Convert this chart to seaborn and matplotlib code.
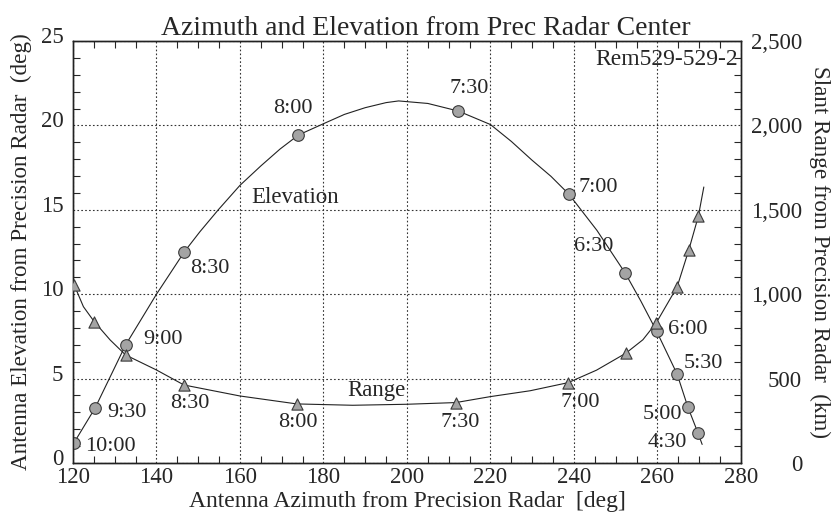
import matplotlib
matplotlib.use("Agg")
import matplotlib.pyplot as plt
import matplotlib.transforms as mtransforms
from matplotlib.ticker import MultipleLocator, FuncFormatter
import seaborn as sns

# marker points (azimuth deg, elevation deg / slant range km)
elev_az = [120.2, 125.3, 132.6, 146.7, 174.0, 212.3, 238.8, 252.3, 259.8, 264.7, 267.3, 269.7]
elev_deg = [1.18, 3.26, 6.99, 12.52, 19.43, 20.85, 15.92, 11.24, 7.8, 5.27, 3.3, 1.78]
elev_times = ["10:00", "9:30", "9:00", "8:30", "8:00", "7:30", "7:00", "6:30", "6:00", "5:30", "5:00", "4:30"]

range_az = [120.3, 125.1, 132.6, 146.6, 173.6, 211.7, 238.6, 252.4, 259.7, 264.7, 267.5, 269.8]
range_km = [1054, 837, 640, 462, 350, 358, 476, 650, 830, 1043, 1262, 1463]

# smooth fit curves
elev_curve_az = [120.2, 125.3, 132.6, 140, 146.7, 150.4, 154.8, 160, 165, 169.6, 174.0, 180,
                 185, 190, 195, 198, 205, 212.3, 220, 225, 229.9, 234.5, 238.8,
                 245.5, 252.3, 256, 259.8, 264.7, 267.3, 269.7, 270.7]
elev_curve_deg = [1.18, 3.26, 6.99, 10.0, 12.52, 13.7, 15.0, 16.45, 17.6, 18.6, 19.43, 20.1,
                  20.65, 21.05, 21.35, 21.45, 21.3, 20.85, 20.05, 19.05, 17.95, 16.98, 15.92,
                  13.78, 11.24, 9.6, 7.8, 5.27, 3.3, 1.78, 1.1]
range_curve_az = [120.3, 122.5, 125.1, 128.9, 132.6, 140, 146.6, 160, 173.6, 187, 200, 211.7,
                  219.9, 229.5, 238.6, 245.4, 252.4, 256.5, 259.7, 264.7, 267.5, 269.8, 271.1]
range_curve_km = [1054, 926, 837, 729, 640, 551, 462, 397, 350, 342, 348, 358,
                  393, 428, 476, 550, 650, 730, 830, 1043, 1262, 1463, 1635]

# label placement (azimuth, elevation) for the time tags
elev_lbl_az = [128.9, 132.9, 141.6, 152.8, 172.7, 215.0, 245.7, 244.8, 267.3, 270.9, 261.1, 262.3]
elev_lbl_el = [0.95, 3.0, 7.3, 11.55, 21.0, 22.2, 16.3, 12.8, 7.9, 5.9, 2.85, 1.2]
range_lbl = {"8:30": (148.0, 3.55), "8:00": (173.9, 2.4), "7:30": (212.7, 2.4), "7:00": (241.4, 3.6)}

sns.set_style("ticks")
plt.rcParams['font.family'] = ['Liberation Serif', 'DejaVu Serif']

fig = plt.figure(figsize=(8.35, 5.19), dpi=100)
ax = fig.add_axes([0.0874, 0.1079, 0.8, 0.8131])
ax2 = ax.twinx()

pt_face = '#a4a4a4'
pt_edge = '#3a3a3a'

sns.lineplot(x=elev_curve_az, y=elev_curve_deg, sort=False, estimator=None,
             color='#222222', lw=0.8, ax=ax)
sns.scatterplot(x=elev_az, y=elev_deg, marker='o', s=70, color=pt_face,
                edgecolor=pt_edge, linewidth=0.8, ax=ax, zorder=5)

sns.lineplot(x=range_curve_az, y=range_curve_km, sort=False, estimator=None,
             color='#222222', lw=0.8, ax=ax2)
sns.scatterplot(x=range_az, y=range_km, marker='^', s=65, color=pt_face,
                edgecolor=pt_edge, linewidth=0.8, ax=ax2, zorder=5)

ax.set_xlim(120, 280)
ax.set_ylim(0, 25)
ax2.set_ylim(0, 2500)

ax.xaxis.set_major_locator(MultipleLocator(20))
ax.xaxis.set_minor_locator(MultipleLocator(5))
ax.yaxis.set_major_locator(MultipleLocator(5))
ax.yaxis.set_minor_locator(MultipleLocator(1))
ax2.yaxis.set_major_locator(MultipleLocator(500))
ax2.yaxis.set_minor_locator(MultipleLocator(100))
ax2.yaxis.set_major_formatter(FuncFormatter(lambda v, p: f"{int(v):,}"))

ax.grid(True, which='major', linestyle=(0, (1.5, 2)), color='#333333', linewidth=0.8)
ax.tick_params(which='both', direction='in', top=True, right=False, labelsize=16.5)
ax.tick_params(axis='x', which='major', pad=3)
ax.tick_params(axis='y', which='major', pad=7)
ax.tick_params(which='major', length=0)
ax.tick_params(which='minor', length=5, width=0.8)
# left labels sit a little above their gridlines in the original
lift = mtransforms.ScaledTranslation(0, 4.3 / 72, fig.dpi_scale_trans)
for lbl in ax.get_yticklabels():
    lbl.set_transform(lbl.get_transform() + lift)
# right-hand labels sit flush right
ax2.tick_params(which='both', direction='in', labelsize=16.5, pad=44)
ax2.tick_params(which='major', length=0)
ax2.tick_params(which='minor', length=5, width=0.8)
for lbl in ax2.get_yticklabels():
    lbl.set_horizontalalignment('right')

for a in (ax, ax2):
    for s in a.spines.values():
        s.set_visible(True)
        s.set_color('#222222')
        s.set_linewidth(1.0)

ax.set_xlabel('Antenna Azimuth from Precision Radar  [deg]', fontsize=17, labelpad=2)
ax.set_ylabel('Antenna Elevation from Precision Radar  (deg)', fontsize=16.7, labelpad=6)
ax2.set_ylabel('Slant Range from Precision Radar  (km)', fontsize=16.7, rotation=-90, labelpad=20)
ax.set_title('Azimuth and Elevation from Prec Radar Center', fontsize=20, pad=3, x=0.528)

for t, xa, ya in zip(elev_times, elev_lbl_az, elev_lbl_el):
    ax.text(xa, ya, t, fontsize=16, ha='center', va='center')
for t, (xa, ya) in range_lbl.items():
    ax.text(xa, ya, t, fontsize=16, ha='center', va='center')

ax.text(173.2, 15.7, 'Elevation', fontsize=16.5, ha='center', va='center')
ax.text(192.8, 4.3, 'Range', fontsize=16.5, ha='center', va='center')
ax.text(279.3, 23.9, 'Rem529-529-2', fontsize=17, ha='right', va='center')

fig.savefig('out.png', dpi=100)
